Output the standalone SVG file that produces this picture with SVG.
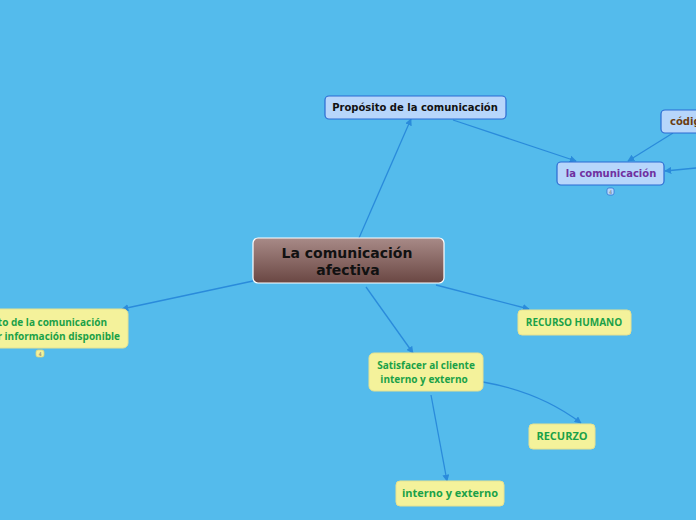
<svg xmlns="http://www.w3.org/2000/svg" width="696" height="520" viewBox="0 0 696 520">
<defs>
<linearGradient id="cg" x1="0" y1="0" x2="0" y2="1">
<stop offset="0" stop-color="#a88a87"/>
<stop offset="1" stop-color="#6a4743"/>
</linearGradient>
<marker id="ah" viewBox="0 0 10 10" refX="9" refY="5" markerWidth="7" markerHeight="7" orient="auto" markerUnits="userSpaceOnUse">
<path d="M0,0 L10,5 L0,10 z" fill="#2a8bdb"/>
</marker>
<style>
.c{stroke:#2a8bdb;stroke-width:1.3;fill:none;marker-end:url(#ah)}
.blue{fill:#b7d6fb;stroke:#2b6bd3;stroke-width:1.2}
.yel{fill:#f4f29b;stroke:#e6e290;stroke-width:1}
.gt{font-family:"Open Sans","DejaVu Sans",sans-serif;font-weight:bold;font-size:10px;fill:#1aa148;text-anchor:middle}
.bt{font-family:"DejaVu Sans",sans-serif;font-weight:bold;font-size:10px;text-anchor:middle}
.badge{fill:#f4f29b;stroke:#d8d480;stroke-width:0.8}
.bn{font-family:"DejaVu Sans",sans-serif;font-size:5px;fill:#777;text-anchor:middle}
</style>
</defs>
<rect width="696" height="520" fill="#54bbec"/>
<g id="connectors">
<path class="c" d="M359,238 L411,119"/>
<path class="c" d="M453,120 L576,161"/>
<path class="c" d="M673,133 L628,161"/>
<path class="c" d="M696,168 L665,171"/>
<path class="c" d="M253,281 L122,309"/>
<path class="c" d="M436,285 L529,309"/>
<path class="c" d="M366,287 L413,353"/>
<path class="c" d="M483,382 Q540,392 581,423"/>
<path class="c" d="M431,395 L447,481"/>
</g>
<g id="central">
<rect x="253" y="238" width="191" height="45" rx="5" fill="url(#cg)" stroke="#ffffff" stroke-width="1.2"/>
<text x="347" y="258" class="bt" style="font-size:14px" fill="#111">La comunicación</text>
<text x="348" y="275" class="bt" style="font-size:14px" fill="#111">afectiva</text>
</g>
<g id="proposito">
<rect class="blue" x="325" y="96" width="181" height="23" rx="4"/>
<text x="415" y="111" class="bt" fill="#111">Propósito de la comunicación</text>
</g>
<g id="lacomunicacion">
<rect class="blue" x="557" y="162" width="107" height="23" rx="4"/>
<text x="611" y="177" class="bt" fill="#7030a0">la comunicación</text>
<rect x="607" y="188" width="7" height="7" rx="2" fill="#b7d6fb" stroke="#2b6bd3" stroke-width="0.7"/>
<text x="610.5" y="193.5" class="bn">4</text>
</g>
<g id="codigo">
<rect class="blue" x="661" y="110" width="60" height="23" rx="4"/>
<text x="670" y="125" class="bt" fill="#6b3d12" style="text-anchor:start">código</text>
</g>
<g id="left">
<rect class="yel" x="-60" y="309" width="188" height="39" rx="5"/>
<text x="107" y="326" class="gt" style="text-anchor:end">to de la comunicación</text>
<text x="120" y="340" class="gt" style="text-anchor:end">r información disponible</text>
<rect class="badge" x="36" y="350" width="8" height="7" rx="2"/>
<text x="40" y="355.5" class="bn">4</text>
</g>
<g id="recursohumano">
<rect class="yel" x="518" y="310" width="113" height="25" rx="4"/>
<text x="574" y="326" class="gt">RECURSO HUMANO</text>
</g>
<g id="satisfacer">
<rect class="yel" x="369" y="353" width="114" height="38" rx="5"/>
<text x="426" y="369" class="gt">Satisfacer al cliente</text>
<text x="424" y="383" class="gt">interno y externo</text>
</g>
<g id="recurzo">
<rect class="yel" x="529" y="424" width="66" height="25" rx="4"/>
<text x="562" y="440" class="gt" style="font-size:11px">RECURZO</text>
</g>
<g id="interno">
<rect class="yel" x="396" y="481" width="108" height="25" rx="4"/>
<text x="450" y="497" class="gt" style="font-size:11px">interno y externo</text>
</g>
</svg>
